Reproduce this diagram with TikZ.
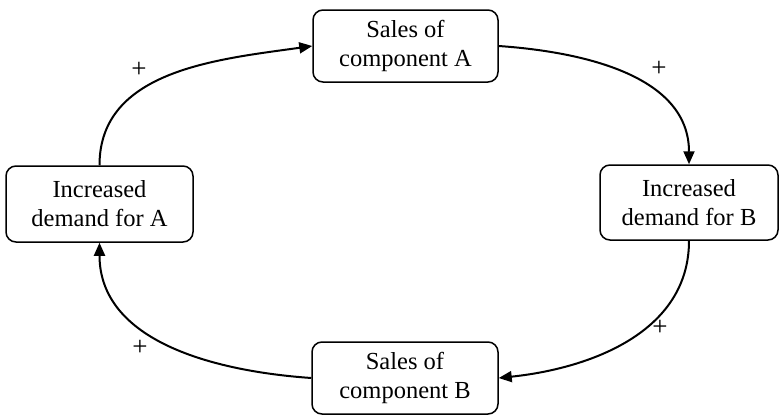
\documentclass[tikz,border=0pt]{standalone}
\usepackage{fontspec}
\setmainfont{Liberation Serif}
\usetikzlibrary{arrows.meta}
\begin{document}
\begin{tikzpicture}[x=1pt,y=1pt,
  box/.style={draw, line width=1.5pt, rounded corners=10pt, align=center,
    inner sep=0pt, font=\fontsize{24.5}{29}\selectfont},
  link/.style={line width=2pt, -{Triangle[length=13pt,width=11pt]}},
  sign/.style={font=\fontsize{27}{28}\selectfont, inner sep=0pt}]
  \useasboundingbox (0,0) rectangle (780,-415);

  % four stages of the loop
  \node[box, minimum width=185pt, minimum height=72pt] (salesA) at (405.5,-46) {Sales of\\component A};
  \node[box, minimum width=187pt, minimum height=76pt] (demA) at (99.5,-204) {Increased\\demand for A};
  \node[box, minimum width=178pt, minimum height=75pt] (demB) at (689,-202.5) {Increased\\demand for B};
  \node[box, minimum width=186pt, minimum height=72pt] (salesB) at (405,-378) {Sales of\\component B};

  % reinforcing links
  \draw[link] (demA.north) to[out=90, in=188] (salesA.west);
  \draw[link] (salesA.east) to[out=-4, in=90] (demB.north);
  \draw[link] (demB.south) to[out=-90, in=6] (salesB.east);
  \draw[link] (salesB.west) to[out=176, in=-90] (demA.south);

  % polarity marks
  \node[sign] (p1) at (139,-70) {+};
  \node[sign] (p2) at (659,-69) {+};
  \node[sign] (p3) at (660,-328) {+};
  \node[sign] (p4) at (140,-348) {+};
\end{tikzpicture}
\end{document}
